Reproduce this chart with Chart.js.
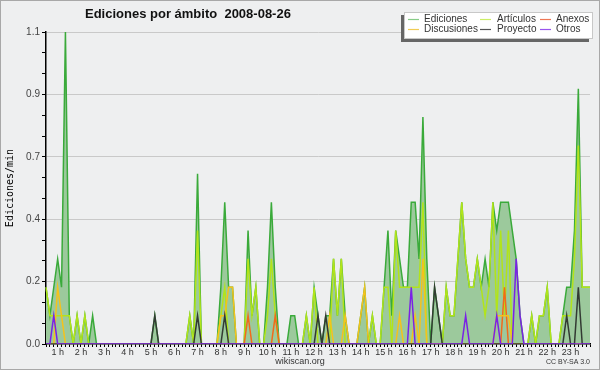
<!DOCTYPE html>
<html>
<head>
<meta charset="utf-8">
<script src="https://cdn.jsdelivr.net/npm/chart.js@4.4.1/dist/chart.umd.min.js"></script>
<style>
html,body{margin:0;padding:0;background:#eeeff0;overflow:hidden;}
canvas{display:block;}
</style>
</head>
<body>
<canvas id="c" width="600" height="370"></canvas>
<script>
// 10-minute buckets, edits per minute
const ediciones = [
  0.2,0.1,0.2,0.3,0.2,1.1,0.1,0,0.1,0,
  0.1,0,0.1,0,0,0,0,0,0,0,
  0,0,0,0,0,0,0,0,0.1,0,
  0,0,0,0,0,0,0,0.1,0,0.6,
  0,0,0,0,0,0.2,0.5,0.2,0.2,0,
  0,0,0.4,0.1,0.2,0,0,0.2,0.5,0.2,
  0,0,0,0.1,0.1,0,0,0.1,0,0.2,
  0.1,0,0.1,0.1,0.3,0.1,0.3,0.1,0,0,
  0,0.1,0.2,0,0.1,0,0,0.2,0.4,0.1,
  0.4,0.3,0.2,0.2,0.5,0.5,0.3,0.8,0.3,0,
  0.2,0.1,0,0.2,0.1,0.1,0.3,0.5,0.3,0.2,
  0.2,0.3,0.2,0.3,0.2,0.5,0.4,0.5,0.5,0.5,
  0.4,0.3,0.1,0,0,0.1,0,0.1,0.1,0.2,
  0,0,0,0.1,0.2,0.2,0.4,0.9,0.2,0.2,
  0.2
];
const articulos = [
  0.2,0.1,0.1,0.1,0.1,0.1,0.1,0,0.1,0,
  0.1,0,0,0,0,0,0,0,0,0,
  0,0,0,0,0,0,0,0,0,0,
  0,0,0,0,0,0,0,0.1,0,0.4,
  0,0,0,0,0,0.1,0.2,0,0,0,
  0,0,0.3,0.1,0.2,0,0,0.1,0.3,0.1,
  0,0,0,0,0,0,0,0.1,0,0.2,
  0,0,0,0,0.3,0.1,0.3,0,0,0,
  0,0,0,0,0.1,0,0,0.2,0.2,0,
  0.4,0.2,0.2,0.2,0.2,0.2,0.2,0.5,0,0,
  0,0,0,0.2,0.1,0.1,0.3,0.5,0.3,0.2,
  0.2,0.3,0.2,0.1,0.2,0.5,0.1,0.4,0.1,0.4,
  0,0,0,0,0,0.1,0,0.1,0.1,0.2,
  0,0,0,0.1,0.1,0.1,0.3,0.7,0.2,0.2,
  0.2
];
const anexos = [
  0,0,0,0,0,0,0,0,0,0, 0,0,0,0,0,0,0,0,0,0, 0,0,0,0,0,0,0,0,0,0,
  0,0,0,0,0,0,0,0,0,0, 0,0,0,0,0,0,0,0,0,0, 0,0,0.1,0,0,0,0,0,0,0.1,
  0,0,0,0,0,0,0,0,0,0, 0,0,0,0,0,0,0,0,0,0, 0,0,0,0,0,0,0,0,0,0,
  0,0,0,0,0,0,0,0,0,0, 0,0,0,0,0,0,0,0,0,0, 0,0,0,0,0,0,0,0,0.2,0,
  0,0,0,0,0,0,0,0,0,0, 0,0,0,0,0,0,0,0,0,0, 0
];
const discusiones = [
  0,0,0,0.2,0.1,0,0,0,0,0, 0,0,0,0,0,0,0,0,0,0, 0,0,0,0,0,0,0,0,0,0,
  0,0,0,0,0,0,0,0,0,0, 0,0,0,0,0,0.1,0.1,0.2,0.2,0, 0,0,0,0,0,0,0,0,0,0,
  0,0,0,0,0,0,0,0,0,0, 0,0,0,0.1,0,0,0,0.1,0,0, 0,0.1,0.2,0,0,0,0,0,0,0,
  0,0.1,0,0,0,0.1,0,0.3,0,0, 0,0,0,0,0,0,0,0,0,0, 0,0,0,0,0,0,0.1,0.1,0.1,0.1,
  0,0,0,0,0,0,0,0,0,0, 0,0,0,0,0,0,0,0,0,0, 0
];
const proyecto = [
  0,0,0,0,0,0,0,0,0,0, 0,0,0,0,0,0,0,0,0,0, 0,0,0,0,0,0,0,0,0.1,0,
  0,0,0,0,0,0,0,0,0,0.1, 0,0,0,0,0,0,0.1,0,0,0, 0,0,0,0,0,0,0,0,0,0,
  0,0,0,0,0,0,0,0,0,0, 0.1,0,0.1,0,0,0,0,0,0,0, 0,0,0,0,0,0,0,0,0,0,
  0,0,0,0,0,0,0,0,0,0, 0.2,0.1,0,0,0,0,0,0,0,0, 0,0,0,0,0,0,0,0,0,0,
  0,0,0,0,0,0,0,0,0,0, 0,0,0,0,0.1,0,0,0.2,0,0, 0
];
const otros = [
  0,0,0.1,0,0,0,0,0,0,0, 0,0,0,0,0,0,0,0,0,0, 0,0,0,0,0,0,0,0,0,0,
  0,0,0,0,0,0,0,0,0,0, 0,0,0,0,0,0,0,0,0,0, 0,0,0,0,0,0,0,0,0,0,
  0,0,0,0,0,0,0,0,0,0, 0,0,0,0,0,0,0,0,0,0, 0,0,0,0,0,0,0,0,0,0,
  0,0,0,0,0.2,0,0,0,0,0, 0,0,0,0,0,0,0,0,0.1,0, 0,0,0,0,0,0,0.1,0,0,0,
  0,0.3,0.1,0,0,0,0,0,0,0, 0,0,0,0,0,0,0,0,0,0, 0
];
const hourTickLabels = ['1 h','2 h','3 h','4 h','5 h','6 h','7 h','8 h','9 h','10 h','11 h','12 h',
  '13 h','14 h','15 h','16 h','17 h','18 h','19 h','20 h','21 h','22 h','23 h'];
const seriesNames = ['Ediciones','Artículos','Anexos','Discusiones','Proyecto','Otros'];
const yMax = 1.1;
const titleText = 'Ediciones por ámbito  2008-08-26';

const buckets = ediciones.map((_, i) => String(i));

const colors = {
  Ediciones: '#3aaa3a', Artículos: '#b2e41a', Anexos: '#f26a1b',
  Discusiones: '#f5c21b', Proyecto: '#333a33', Otros: '#7a22e6'
};
const legendColors = ['#88cc88','#ccee66','#ee7755','#f0cc55','#555555','#9955ee'];

function ds(label, data, order, extra) {
  return Object.assign({
    label, data, order,
    borderColor: colors[label], borderWidth: 1.5,
    pointRadius: 0, pointHoverRadius: 0, tension: 0, fill: false
  }, extra || {});
}

const decor = {
  id: 'decor',
  beforeDraw(chart) {
    const c = chart.ctx;
    c.save();
    c.fillStyle = '#eeeff0';
    c.fillRect(0, 0, chart.width, chart.height);
    c.strokeStyle = '#a8a8a8';
    c.lineWidth = 1;
    c.strokeRect(0.5, 0.5, chart.width - 1, chart.height - 1);
    c.restore();
  },
  afterDraw(chart) {
    const c = chart.ctx;
    c.save();
    // title
    c.fillStyle = '#111';
    c.font = 'bold 13px "Liberation Sans"';
    c.textAlign = 'left';
    c.textBaseline = 'middle';
    c.fillText(titleText, 85, 14);
    // legend box with shadow
    c.fillStyle = '#666';
    c.fillRect(401, 15, 188, 27);
    c.fillStyle = '#ffffff';
    c.fillRect(404, 12, 189, 27);
    c.strokeStyle = '#c8c8c8';
    c.strokeRect(404.5, 12.5, 188, 26);
    const cols = [[408, 424], [480, 497], [540, 556]];
    const rows = [19, 29];
    c.font = '10px "Liberation Sans"';
    c.textBaseline = 'middle';
    seriesNames.forEach((name, i) => {
      const col = cols[i % 3], row = rows[Math.floor(i / 3)];
      c.strokeStyle = legendColors[i];
      c.lineWidth = 1.2;
      c.beginPath();
      c.moveTo(col[0], row + 0.5);
      c.lineTo(col[0] + 11, row + 0.5);
      c.stroke();
      c.fillStyle = '#333';
      c.fillText(name, col[1], row);
    });
    // footer
    c.fillStyle = '#333';
    c.font = '9px "Liberation Sans"';
    c.textAlign = 'center';
    c.fillText('wikiscan.org', 300, 362);
    c.font = '7px "Liberation Sans"';
    c.textAlign = 'right';
    c.fillText('CC BY-SA 3.0', 590, 362);
    c.restore();
  }
};

new Chart(document.getElementById('c'), {
  type: 'line',
  data: {
    labels: buckets,
    datasets: [
      ds('Ediciones', ediciones, 6, { fill: 'origin', backgroundColor: '#9cc99c' }),
      ds('Artículos', articulos, 5),
      ds('Anexos', anexos, 4),
      ds('Discusiones', discusiones, 3),
      ds('Proyecto', proyecto, 2),
      ds('Otros', otros, 1)
    ]
  },
  options: {
    responsive: false,
    animation: false,
    events: [],
    layout: { padding: { left: 4, right: 10, top: 32, bottom: 0 } },
    plugins: { legend: { display: false }, title: { display: false }, tooltip: { enabled: false } },
    scales: {
      x: {
        type: 'category',
        offset: false,
        afterFit(s) { s.height = 26; },
        grid: { display: true, drawOnChartArea: false, drawTicks: true, tickLength: 3, color: '#000', tickColor: '#000' },
        border: { display: true, color: '#000', width: 1.5 },
        ticks: {
          autoSkip: false, maxRotation: 0, minRotation: 0, padding: 0,
          color: '#333', font: { family: 'Liberation Sans', size: 9 },
          callback(v, i) { return i % 6 === 3 ? hourTickLabels[(i - 3) / 6] : ''; }
        }
      },
      y: {
        min: 0, max: yMax,
        afterFit(s) { s.width = 42; },
        afterBuildTicks(s) {
          s.ticks = Array.from({ length: 16 }, (_, i) => ({ value: i * yMax / 15 }));
        },
        grid: {
          drawTicks: true, tickLength: 4,
          color: (ctx) => (ctx.index % 3 === 0 && ctx.index > 0) ? '#c9c9c9' : 'rgba(0,0,0,0)',
          tickColor: '#000'
        },
        border: { display: true, color: '#000', width: 1.5 },
        ticks: {
          color: '#444', padding: 2, font: { family: 'Liberation Sans', size: 10 },
          callback(v, i) { return i % 3 === 0 ? v.toFixed(1) : ''; }
        },
        title: { display: true, text: 'Ediciones/min', color: '#000', padding: { top: 0, bottom: 3 },
          font: { family: 'DejaVu Sans Mono', size: 10 } }
      }
    }
  },
  plugins: [decor]
});
</script>
</body>
</html>
